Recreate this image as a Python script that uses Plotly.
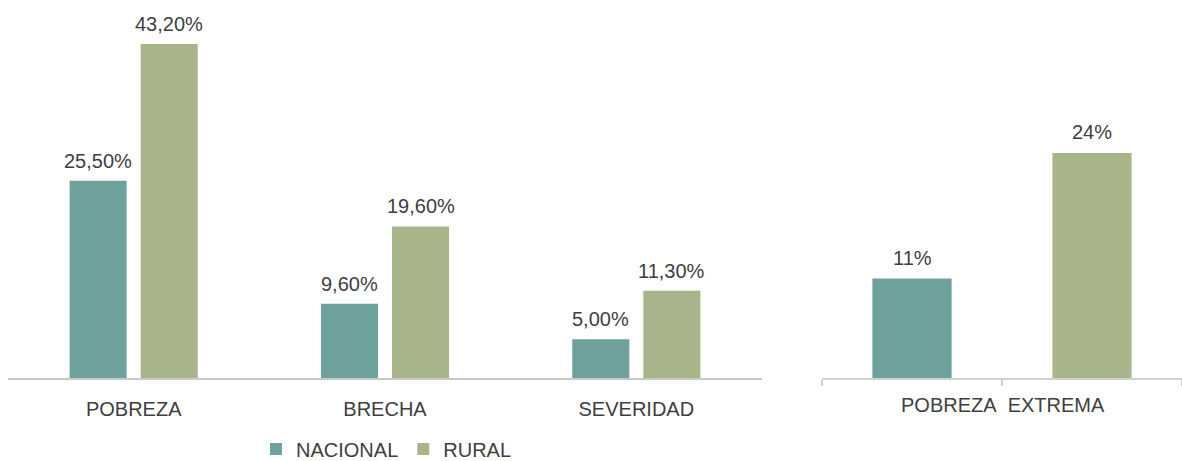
import plotly.graph_objects as go
from plotly.subplots import make_subplots

categorias = ["POBREZA", "BRECHA", "SEVERIDAD"]
nacional = [25.5, 9.6, 5.0]
rural = [43.2, 19.6, 11.3]

extrema_series = ["NACIONAL", "RURAL"]
extrema_valores = [10.7, 24.2]
extrema_label = "POBREZA\u00a0 EXTREMA"

color_nac = "#6ea19b"
color_rur = "#a8b58a"
texto = "#404040"
fuente = "Liberation Sans, Arial, sans-serif"

ancho = 0.227
desp = 0.1414

fig = make_subplots(rows=1, cols=2)

fig.add_trace(go.Bar(x=categorias, y=nacional, name="NACIONAL", marker_color=color_nac,
                     width=ancho, offset=-desp - ancho / 2), row=1, col=1)
fig.add_trace(go.Bar(x=categorias, y=rural, name="RURAL", marker_color=color_rur,
                     width=ancho, offset=desp - ancho / 2), row=1, col=1)

fig.add_trace(go.Bar(x=extrema_series, y=extrema_valores, showlegend=False,
                     marker_color=[color_nac, color_rur], width=0.44), row=1, col=2)

fig.update_traces(marker_line_width=0)

# etiquetas de datos
for i, (n, r) in enumerate(zip(nacional, rural)):
    for xpos, val in ((i - desp, n), (i + desp, r)):
        fig.add_annotation(x=xpos, y=val, xref="x", yref="y", text=f"{val:.2f}%".replace(".", ","),
                           showarrow=False, yanchor="bottom", yshift=7)
for i, val in enumerate(extrema_valores):
    fig.add_annotation(x=i, y=val, xref="x2", yref="y2", text=f"{val:.0f}%",
                       showarrow=False, yanchor="bottom", yshift=8)

fig.update_annotations(font=dict(size=20, color=texto, family=fuente))

fig.update_layout(
    width=1182, height=461,
    margin=dict(l=0, r=0, t=10, b=83, autoexpand=False),
    plot_bgcolor="white", paper_bgcolor="white",
    font=dict(family=fuente, size=20, color=texto),
    barmode="group",
    legend=dict(orientation="h", xanchor="center", x=0.327, yanchor="middle", y=-0.193,
                font=dict(size=20, color=texto), itemwidth=30, tracegroupgap=0),
    xaxis=dict(domain=[8 / 1182, 762 / 1182], showline=True, linecolor="#c8c8c8", linewidth=2,
               ticks="outside", ticklen=12, tickcolor="rgba(0,0,0,0)",
               tickfont=dict(size=20, color=texto)),
    yaxis=dict(range=[0, 47.6], visible=False),
    xaxis2=dict(domain=[822 / 1182, 1.0], range=[-0.5, 1.5], showline=True, linecolor="#d0d0d0",
                linewidth=2, tickson="boundaries", ticks="outside", ticklen=6, tickcolor="#d0d0d0",
                tickwidth=2, showticklabels=False),
    yaxis2=dict(range=[0, 39.6], visible=False),
)

fig.add_annotation(text=extrema_label, xref="paper", yref="paper", x=1003 / 1182, y=-0.073,
                   showarrow=False, font=dict(size=20, color=texto, family=fuente),
                   xanchor="center", yanchor="middle")

fig.write_html("out.html", config={"displayModeBar": False},
               post_script="document.body.style.margin='0';")
